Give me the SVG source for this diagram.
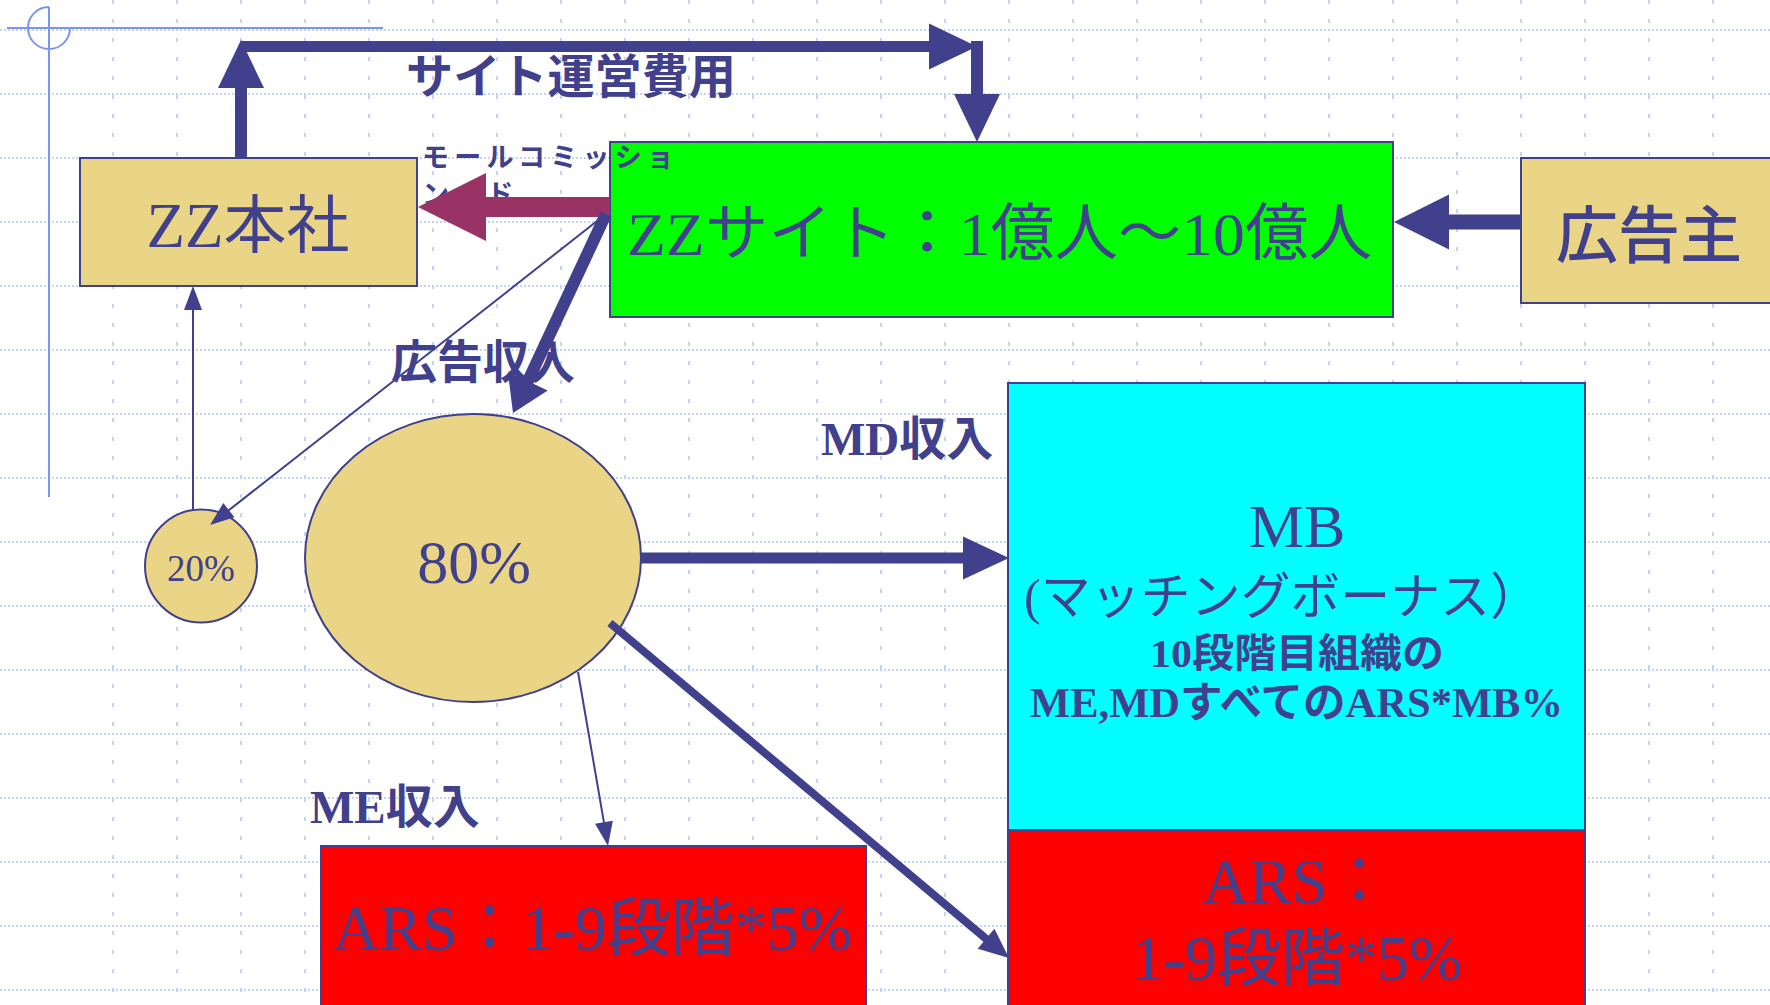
<svg xmlns="http://www.w3.org/2000/svg" width="1770" height="1005" viewBox="0 0 1770 1005">
<style>
.gh{fill:none;stroke:#c4d2f6;stroke-width:2;stroke-dasharray:2 2}
.gv{fill:none;stroke:#c4d2f6;stroke-width:2;stroke-dasharray:4 15}
.cross{fill:none;stroke:#7a95f0;stroke-width:2}
.box{stroke:#40408c;stroke-width:2}
.kh{fill:#e9d585}
.srf{font-family:"Liberation Serif","Noto Sans CJK JP",serif;fill:#40408c}
.gth{font-family:"Noto Sans CJK JP","Noto Sans",sans-serif;fill:#40408c}
.b{font-weight:bold}
.c{text-anchor:middle}
.ln{fill:none;stroke:#40408c}
</style>
<defs>
<marker id="hBig" markerUnits="userSpaceOnUse" markerWidth="48" markerHeight="46" refX="1" refY="23" orient="auto" overflow="visible"><path d="M0,0 L48,23 L0,46 z" fill="#40408c"/></marker>
<marker id="hAd" markerUnits="userSpaceOnUse" markerWidth="55" markerHeight="55" refX="1" refY="27.5" orient="auto" overflow="visible"><path d="M0,0 L55,27.5 L0,55 z" fill="#40408c"/></marker>
<marker id="hMar" markerUnits="userSpaceOnUse" markerWidth="68" markerHeight="68" refX="1" refY="34" orient="auto" overflow="visible"><path d="M0,0 L68,34 L0,68 z" fill="#993366"/></marker>
<marker id="hMid" markerUnits="userSpaceOnUse" markerWidth="35" markerHeight="44" refX="1" refY="22" orient="auto" overflow="visible"><path d="M0,0 L35,22 L0,44 z" fill="#40408c"/></marker>
<marker id="hMB" markerUnits="userSpaceOnUse" markerWidth="46" markerHeight="43" refX="1" refY="21.5" orient="auto" overflow="visible"><path d="M0,0 L46,21.5 L0,43 z" fill="#40408c"/></marker>
<marker id="hSl" markerUnits="userSpaceOnUse" markerWidth="30" markerHeight="26" refX="1" refY="13" orient="auto" overflow="visible"><path d="M0,0 L30,13 L0,26 z" fill="#40408c"/></marker>
<marker id="hThin" markerUnits="userSpaceOnUse" markerWidth="24" markerHeight="18" refX="1" refY="9" orient="auto" overflow="visible"><path d="M0,0 L24,9 L0,18 z" fill="#40408c"/></marker>
</defs>
<rect x="0" y="0" width="1770" height="1005" fill="#ffffff"/>
<g id="grid">
<path class="gh" d="M0 30H1770M0 94H1770M0 158H1770M0 222H1770M0 286H1770M0 350H1770M0 414H1770M0 478H1770M0 542H1770M0 606H1770M0 670H1770M0 734H1770M0 798H1770M0 862H1770M0 926H1770M0 990H1770"/>
<path class="gv" d="M113 0V1005M177 0V1005M241 0V1005M305 0V1005M369 0V1005M433 0V1005M497 0V1005M561 0V1005M625 0V1005M689 0V1005M753 0V1005M817 0V1005M881 0V1005M945 0V1005M1009 0V1005M1073 0V1005M1137 0V1005M1201 0V1005M1265 0V1005M1329 0V1005M1393 0V1005M1457 0V1005M1521 0V1005M1585 0V1005M1649 0V1005M1713 0V1005"/>
</g>
<g id="crosshair">
<path class="cross" d="M7 28H383M49 7V497M49 7A21 21 0 1 0 70 28"/>
</g>
<g id="node-zz-honsha">
<rect class="box kh" x="80" y="158" width="337" height="128"/>
<text class="srf c" x="248" y="247" font-size="63">ZZ本社</text>
</g>
<g id="node-zz-site">
<rect class="box" x="610" y="142" width="783" height="175" fill="#00ff00"/>
<text class="srf" x="627" y="255" font-size="62" textLength="745" lengthAdjust="spacingAndGlyphs">ZZサイト：1億人～10億人</text>
</g>
<g id="node-advertiser">
<rect class="box kh" x="1521" y="158" width="262" height="145"/>
<text class="gth" x="1556" y="258" font-size="62" font-weight="500">広告主</text>
</g>
<g id="node-20">
<ellipse class="box kh" cx="201" cy="566" rx="56" ry="56.5"/>
<text class="srf c" x="201" y="581" font-size="37">20%</text>
</g>
<g id="node-80">
<ellipse class="box kh" cx="473" cy="558" rx="168" ry="144"/>
<text class="srf c" x="474" y="583" font-size="62">80%</text>
</g>
<g id="node-mb">
<rect class="box" x="1008" y="383" width="577" height="447" fill="#00ffff"/>
<text class="srf c" x="1297" y="547" font-size="62">MB</text>
<text class="srf" x="1024" y="614" font-size="50" textLength="516" lengthAdjust="spacingAndGlyphs">(マッチングボーナス）</text>
<text class="srf b" x="1150" y="667" font-size="40" textLength="294" lengthAdjust="spacingAndGlyphs">10段階目組織の</text>
<text class="srf b" x="1030" y="717" font-size="42" textLength="533" lengthAdjust="spacingAndGlyphs">ME,MDすべてのARS*MB%</text>
</g>
<g id="node-mb-ars">
<rect class="box" x="1008" y="830" width="577" height="190" fill="#ff0000"/>
<text class="srf c" x="1297" y="903" font-size="64">ARS：</text>
<text class="srf c" x="1297" y="980" font-size="64">1-9段階*5%</text>
</g>
<g id="node-me-ars">
<rect class="box" x="321" y="846" width="545" height="170" fill="#ff0000"/>
<text class="srf" x="333" y="950" font-size="64" textLength="519" lengthAdjust="spacingAndGlyphs">ARS：1-9段階*5%</text>
</g>
<g id="labels">
<text class="gth b" x="406" y="93" font-size="47" textLength="330" lengthAdjust="spacingAndGlyphs">サイト運営費用</text>
<text class="gth b" x="422" y="167" font-size="27" letter-spacing="5.2">モールコミッショ</text>
<text class="gth b" x="422" y="204" font-size="27" letter-spacing="5.2">ン　ド</text>
<text class="gth b" x="391" y="378" font-size="46">広告収入</text>
<text class="srf b" x="821" y="455" font-size="47">MD収入</text>
<text class="srf b" x="310" y="823" font-size="47">ME収入</text>
</g>
<g id="connectors">
<path class="ln" stroke-width="12" d="M241 158V87" marker-end="url(#hBig)"/>
<path class="ln" stroke-width="11" d="M241 46.5H930" marker-end="url(#hBig)"/>
<path class="ln" stroke-width="12" d="M977 41V95" marker-end="url(#hBig)"/>
<path class="ln" stroke-width="15" d="M1521 222H1448" marker-end="url(#hAd)"/>
<path fill="none" stroke="#993366" stroke-width="20" d="M610 207H485" marker-end="url(#hMar)"/>
<path class="ln" stroke-width="12" d="M606 214L527.4 382.2" marker-end="url(#hMid)"/>
<path class="ln" stroke-width="2" d="M606 214L228.1 510.8" marker-end="url(#hThin)"/>
<path class="ln" stroke-width="2" d="M193 510V309" marker-end="url(#hThin)"/>
<path class="ln" stroke-width="11" d="M641 558H964" marker-end="url(#hMB)"/>
<path class="ln" stroke-width="2" d="M578 672L604.1 823.3" marker-end="url(#hThin)"/>
<path class="ln" stroke-width="8" d="M610 623L986.8 939.4" marker-end="url(#hSl)"/>
</g>
</svg>
